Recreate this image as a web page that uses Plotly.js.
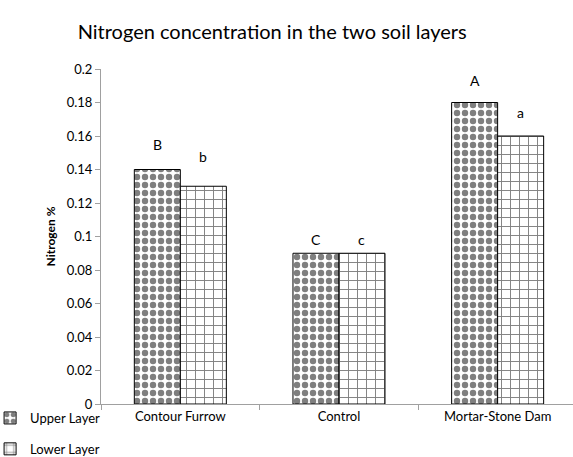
<!DOCTYPE html>
<html>
<head>
<meta charset="utf-8">
<script src="https://cdn.plot.ly/plotly-3.0.1.min.js"></script>
<style>html,body{margin:0;padding:0;background:#fff;}#chart{width:573px;height:457px;}</style>
</head>
<body>
<div id="chart"></div>
<script>
const categories = ["Contour Furrow", "Control", "Mortar-Stone Dam"];
const upperLayer = [0.14, 0.09, 0.18];
const lowerLayer = [0.13, 0.09, 0.16];
const upperLetters = ["B", "C", "A"];
const lowerLetters = ["b", "c", "a"];
const upperLetterY = [0.155, 0.0985, 0.193];
const lowerLetterY = [0.148, 0.0985, 0.174];
const yTicks = [0, 0.02, 0.04, 0.06, 0.08, 0.1, 0.12, 0.14, 0.16, 0.18, 0.2];

const FONT = "Lato, sans-serif";

const traces = [
  {
    type: "bar", name: "Upper Layer", x: categories, y: upperLayer,
    legendgroup: "u",
    marker: {color: "white", line: {color: "black", width: 1},
      pattern: {shape: ".", fgcolor: "black", bgcolor: "white", size: 8, solidity: 0.5, fillmode: "overlay"}},
    hoverinfo: "skip"
  },
  {
    type: "bar", name: "Lower Layer", x: categories, y: lowerLayer,
    legendgroup: "l",
    marker: {color: "white", line: {color: "black", width: 1},
      pattern: {shape: "+", fgcolor: "black", bgcolor: "white", size: 9, solidity: 0.2, fillmode: "overlay"}},
    hoverinfo: "skip"
  }
];

const annotations = [];
categories.forEach((c, i) => {
  annotations.push({x: c, y: upperLetterY[i], text: upperLetters[i], xshift: -23, showarrow: false,
    font: {family: FONT, size: 14, color: "black"}, xref: "x", yref: "y"});
  annotations.push({x: c, y: lowerLetterY[i], text: lowerLetters[i], xshift: 23, showarrow: false,
    font: {family: FONT, size: 14, color: "black"}, xref: "x", yref: "y"});
});

const layout = {
  width: 573, height: 457,
  margin: {l: 101, r: 0, t: 69, b: 53, autoexpand: false},
  paper_bgcolor: "white", plot_bgcolor: "white",
  font: {family: FONT, size: 12, color: "black"},
  title: {text: "Nitrogen concentration in the two soil layers", font: {family: FONT, size: 20, color: "black"},
    x: 0.475, xanchor: "center", y: 0.93, yanchor: "middle"},
  barmode: "group", bargap: 0.42, bargroupgap: 0,
  xaxis: {
    type: "category", range: [-0.5, 2.475], showgrid: false, zeroline: false,
    showline: true, linecolor: "#a0a0a0", linewidth: 1,
    ticks: "outside", tickson: "boundaries", ticklen: 5, tickcolor: "#a0a0a0",
    tickfont: {family: FONT, size: 13, color: "black"}
  },
  yaxis: {
    range: [0, 0.2], tickvals: yTicks, ticktext: yTicks.map(v => String(v)),
    showgrid: false, zeroline: false, showline: true, linecolor: "#a0a0a0", linewidth: 1,
    ticks: "outside", ticklen: 5, tickcolor: "#a0a0a0",
    tickfont: {family: FONT, size: 13, color: "black"},
    title: {text: "<b>Nitrogen %</b>", font: {family: FONT, size: 12, color: "black"}, standoff: 8}
  },
  showlegend: true,
  legend: {x: -0.235, xanchor: "left", y: 0.003, yanchor: "top", orientation: "v",
    traceorder: "grouped", tracegroupgap: 11, itemwidth: 30,
    font: {family: FONT, size: 13, color: "black"}, bgcolor: "rgba(0,0,0,0)"},
  annotations: annotations
};

Plotly.newPlot("chart", traces, layout, {displayModeBar: false, staticPlot: true});
</script>
</body>
</html>
